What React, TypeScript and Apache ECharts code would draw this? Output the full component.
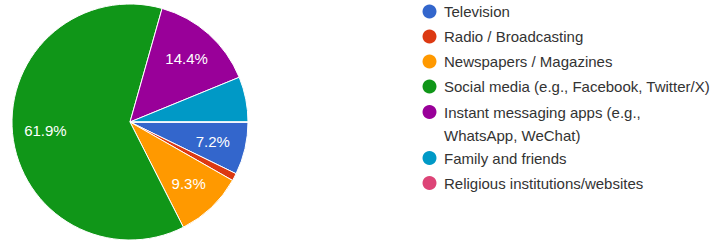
import React, { useEffect, useRef } from "react";
import * as echarts from "echarts";

const categories = [
  "Television",
  "Radio / Broadcasting",
  "Newspapers / Magazines",
  "Social media (e.g., Facebook, Twitter/X)",
  "Instant messaging apps (e.g., WhatsApp, WeChat)",
  "Family and friends",
  "Religious institutions/websites",
];
// responses (n = 97)
const responses = [7, 1, 9, 60, 14, 6, 0];
const colors = ["#3366cc", "#dc3912", "#ff9900", "#109618", "#990099", "#0099c6", "#dd4477"];

const FONT = "'Liberation Sans', Arial, sans-serif";

export default function App() {
  const ref = useRef<HTMLDivElement>(null);
  useEffect(() => {
    if (!ref.current) return;
    const chart = echarts.init(ref.current, undefined, { renderer: "svg" });
    const data = categories.map((name, i) => ({
      name,
      value: responses[i],
      itemStyle: { color: colors[i] },
    }));
    const legendBase = {
      orient: "vertical" as const,
      left: 422.5,
      padding: 0,
      itemWidth: 19,
      itemHeight: 14,
      itemGap: 2,
      icon: "circle",
      selectedMode: false,
      itemStyle: { borderWidth: 0 },
      textStyle: { fontSize: 15, lineHeight: 23, color: "#333", fontFamily: FONT },
      formatter: (name: string) =>
        name === categories[4] ? "\n" + name.replace(", WhatsApp", ",\nWhatsApp") : name,
    };
    chart.setOption({
      animation: false,
      textStyle: { fontFamily: FONT },
      legend: [
        { ...legendBase, top: 0, data: categories.slice(0, 4) },
        { ...legendBase, top: 77.5, data: categories.slice(4, 5) },
        { ...legendBase, top: 146.5, data: categories.slice(5, 7) },
      ],
      series: [
        {
          type: "pie",
          center: [130, 122],
          radius: [0, 118],
          startAngle: 0,
          clockwise: true,
          percentPrecision: 1,
          data,
          label: { show: false },
          labelLine: { show: false },
          itemStyle: { borderColor: "#ffffff", borderWidth: 1 },
          emphasis: { disabled: true },
          silent: true,
        },
        {
          type: "pie",
          center: [130, 122],
          radius: [46, 118],
          startAngle: 0,
          clockwise: true,
          percentPrecision: 1,
          data: categories.map((name, i) => ({ name, value: responses[i] })),
          itemStyle: { color: "rgba(0,0,0,0)", borderWidth: 0 },
          label: {
            show: true,
            position: "inside",
            color: "#ffffff",
            fontSize: 15,
            fontFamily: FONT,
            formatter: (p: any) => (p.percent >= 7 ? p.percent.toFixed(1) + "%" : ""),
          },
          labelLine: { show: false },
          emphasis: { disabled: true },
          silent: true,
        },
      ],
    });
    return () => chart.dispose();
  }, []);
  return (
    <div
      ref={ref}
      style={{ position: "fixed", left: 0, top: 0, width: 728, height: 245, background: "#fff" }}
    />
  );
}
